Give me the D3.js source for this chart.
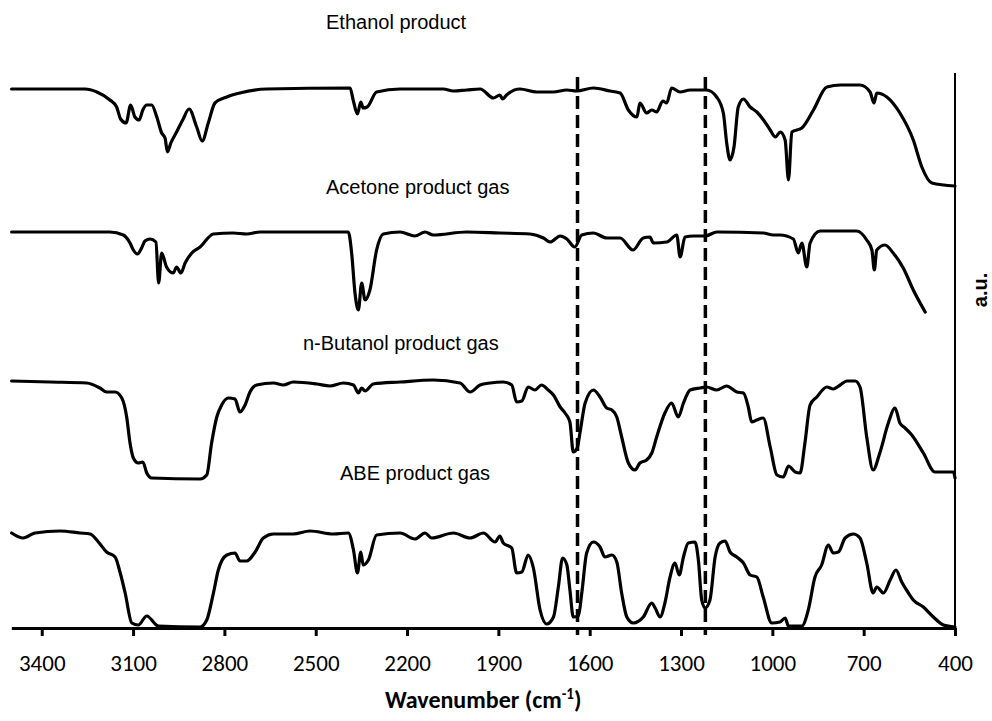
<!DOCTYPE html>
<html>
<head>
<meta charset="utf-8">
<script src="https://cdn.jsdelivr.net/npm/d3@7"></script>
<style>
  body { margin: 0; background: #fff; }
</style>
</head>
<body>
<svg class="ftir"></svg>
<script>
// Spectra: [wavenumber (cm-1), a.u.], already stacked
var ethanol = [
  [3499,53.9],[3258,53.9],[3219,53.6],[3176,52.8],[3154,52.1],[3141,50.9],[3123,50.5],[3108,52.3],[3094,51.1],[3080,50.8],
  [3068,51.8],[3055,52.3],[3039,52.3],[3022,51.1],[3006,49.5],[2995,49.0],[2987,47.6],[2976,48.5],[2957,49.6],[2937,50.8],
  [2916,51.9],[2891,50.1],[2873,48.7],[2853,50.5],[2831,52.5],[2792,53.1],[2749,53.5],[2661,53.9],[2387,54.0],[2377,52.8],
  [2363,51.4],[2352,52.6],[2344,52.0],[2331,52.1],[2300,53.6],[2223,53.9],[2081,53.9],[2048,53.7],[2004,53.8],[1960,53.9],
  [1916,53.0],[1895,53.3],[1886,52.9],[1873,53.3],[1829,53.9],[1774,53.6],[1720,53.6],[1675,53.8],[1643,53.7],[1588,54.0],
  [1533,53.7],[1500,53.5],[1473,51.8],[1445,51.1],[1435,52.5],[1413,51.5],[1396,51.8],[1380,51.6],[1360,52.7],[1347,52.5],
  [1331,54.0],[1303,53.6],[1270,53.8],[1216,53.8],[1183,53.1],[1161,51.5],[1150,48.5],[1139,46.8],[1126,48.1],[1112,52.1],
  [1095,52.9],[1073,52.1],[1051,51.6],[1029,50.8],[1007,49.8],[990,49.1],[974,49.6],[958,48.8],[947,44.8],[936,49.6],
  [903,50.0],[865,51.8],[821,54.1],[775,54.3],[712,54.3],[679,53.6],[666,52.5],[657,53.5],[624,53.1],[581,51.5],
  [537,48.8],[509,46.1],[476,44.5],[400,44.2]
];

var acetone = [
  [3499,39.6],[3176,39.6],[3132,39.3],[3110,38.5],[3099,37.8],[3086,37.4],[3072,38.0],[3061,38.7],[3044,38.9],[3025,38.6],
  [3016,34.5],[3006,37.5],[2990,36.1],[2968,35.5],[2957,36.1],[2943,35.5],[2929,36.5],[2907,37.5],[2880,38.1],[2836,39.4],
  [2771,39.5],[2727,39.4],[2683,39.6],[2393,39.6],[2382,37.5],[2371,33.5],[2360,31.8],[2349,34.5],[2338,32.8],[2322,33.8],
  [2300,37.8],[2278,39.4],[2223,39.6],[2174,39.2],[2141,39.6],[2114,39.3],[2004,39.6],[1895,39.5],[1796,39.4],[1752,39.0],
  [1730,38.6],[1697,39.2],[1675,38.9],[1649,38.1],[1626,39.3],[1588,39.5],[1544,39.0],[1500,39.0],[1458,37.8],[1424,39.0],
  [1402,39.1],[1391,38.5],[1347,38.6],[1314,39.3],[1303,37.1],[1287,39.1],[1259,39.2],[1221,39.2],[1182,39.6],[1030,39.5],
  [997,39.3],[975,39.3],[931,38.9],[915,37.5],[903,38.5],[887,36.1],[876,38.5],[843,39.7],[723,39.7],[690,38.8],
  [673,37.8],[665,35.8],[657,37.8],[630,38.3],[603,37.5],[570,36.0],[537,33.8],[498,31.6]
];

var butanol = [
  [3499,24.7],[3373,24.6],[3252,24.5],[3209,24.0],[3187,23.6],[3159,23.6],[3137,23.0],[3121,21.1],[3110,18.5],[3099,17.0],
  [3083,16.5],[3068,16.6],[3055,15.5],[3039,15.0],[2880,14.9],[2858,15.3],[2842,18.5],[2825,21.1],[2809,22.3],[2787,23.0],
  [2765,22.9],[2749,21.6],[2732,22.3],[2716,23.6],[2694,24.3],[2639,24.5],[2606,24.3],[2574,24.6],[2497,24.4],[2453,24.2],
  [2409,24.5],[2376,24.3],[2360,23.5],[2349,24.0],[2338,23.7],[2311,24.4],[2223,24.6],[2114,24.8],[2026,24.5],[1993,23.6],
  [1960,24.3],[1927,24.5],[1884,24.6],[1856,24.3],[1840,22.6],[1823,22.7],[1802,24.1],[1780,23.8],[1758,24.3],[1736,23.8],
  [1719,23.3],[1697,22.1],[1681,21.5],[1665,20.6],[1654,17.6],[1641,18.0],[1632,19.5],[1615,22.5],[1588,23.8],[1566,23.1],
  [1544,22.0],[1527,21.8],[1511,21.1],[1495,19.1],[1473,16.5],[1451,15.8],[1435,16.5],[1413,16.8],[1396,17.5],[1380,19.1],
  [1353,21.5],[1331,22.5],[1309,21.1],[1292,22.5],[1270,23.8],[1237,24.0],[1216,24.1],[1183,23.8],[1150,24.2],[1117,23.6],
  [1095,23.5],[1079,22.1],[1068,20.6],[1051,20.8],[1030,21.0],[1007,18.1],[985,15.3],[964,15.1],[947,16.2],[925,15.6],
  [909,15.5],[893,18.5],[876,22.3],[854,23.1],[821,24.1],[800,23.9],[777,24.3],[755,24.7],[728,24.7],[712,24.1],
  [690,19.1],[669,15.8],[647,17.5],[619,20.5],[597,22.0],[581,20.5],[564,20.0],[542,19.3],[504,17.5],[466,15.6],
  [405,15.6],[400,15.0]
];

var abe = [
  [3499,9.5],[3461,9.0],[3422,9.5],[3340,9.7],[3274,9.5],[3241,9.4],[3214,8.6],[3187,7.6],[3159,7.1],[3143,5.6],
  [3126,3.5],[3104,0.5],[3083,0.3],[3055,1.2],[3017,0.2],[2880,0.1],[2858,0.8],[2836,3.5],[2820,5.8],[2792,7.3],
  [2765,7.5],[2749,6.7],[2727,6.7],[2699,7.6],[2672,9.0],[2639,9.4],[2574,9.4],[2519,9.7],[2442,9.4],[2393,9.5],
  [2376,7.8],[2363,5.5],[2352,7.6],[2344,6.3],[2327,6.8],[2300,9.3],[2223,9.5],[2174,8.9],[2141,9.5],[2119,9.0],
  [2048,9.5],[1993,9.0],[1949,9.5],[1911,8.6],[1895,9.2],[1884,8.5],[1856,8.0],[1840,5.5],[1823,5.6],[1802,7.3],
  [1785,6.0],[1763,1.8],[1741,0.4],[1719,1.1],[1703,4.1],[1689,7.0],[1675,6.3],[1665,3.8],[1654,1.1],[1637,1.2],
  [1626,3.5],[1610,7.5],[1588,8.6],[1566,8.1],[1550,7.1],[1527,7.3],[1511,6.6],[1495,3.5],[1478,1.1],[1457,0.5],
  [1424,1.1],[1396,2.5],[1385,2.0],[1369,1.1],[1353,2.5],[1336,5.1],[1320,6.5],[1306,5.3],[1292,7.1],[1276,8.5],
  [1254,8.6],[1243,6.8],[1232,2.8],[1221,2.0],[1205,2.8],[1188,7.1],[1172,8.5],[1155,8.7],[1139,7.6],[1117,7.1],
  [1095,6.5],[1073,5.3],[1051,5.1],[1030,3.1],[1002,0.5],[975,0.6],[958,1.0],[947,0.2],[903,0.2],[882,1.8],
  [860,5.1],[838,6.3],[816,8.3],[800,7.5],[783,7.6],[761,9.0],[734,9.4],[712,9.0],[690,6.5],[669,3.5],
  [657,4.1],[635,3.5],[613,4.8],[594,5.8],[575,4.6],[553,3.5],[537,2.8],[504,2.1],[471,1.1],[438,0.3],
  [400,0.1]
];

var seriesNames = ["Ethanol product", "Acetone product gas", "n-Butanol product gas", "ABE product gas"];
var tickValues = [3400, 3100, 2800, 2500, 2200, 1900, 1600, 1300, 1000, 700, 400];
var markers = [1640, 1220];   // dashed guide lines (cm-1)

// Total dimensions
var w = 992,
    h = 721;

var svg = d3.select(".ftir")
    .attr("width", w)
    .attr("height", h);

var xScale = d3.scaleLinear()
    .domain([3500, 400])
    .range([11.3, 955]);

var yScale = d3.scaleLinear()
    .domain([0, 55.5])
    .range([628, 73]);

var line = d3.line()
    .x(function(d) { return xScale(d[0]); })
    .y(function(d) { return yScale(d[1]); })
    .curve(d3.curveMonotoneX);

// Spectra
[ethanol, acetone, butanol, abe].forEach(function(s) {
    svg.append("path")
        .datum(s)
        .attr("fill", "none")
        .attr("stroke", "#000")
        .attr("stroke-width", 3.2)
        .attr("stroke-linejoin", "round")
        .attr("stroke-linecap", "round")
        .attr("d", line);
});

// Dashed guides
svg.selectAll(".marker")
    .data(markers)
    .enter().append("line")
    .attr("class", "marker")
    .attr("x1", function(d) { return xScale(d); })
    .attr("x2", function(d) { return xScale(d); })
    .attr("y1", yScale(55.1))
    .attr("y2", yScale(-0.7))
    .attr("stroke", "#000")
    .attr("stroke-width", 3.5)
    .attr("stroke-dasharray", "13,6");

// Right frame line
svg.append("line")
    .attr("x1", xScale(400)).attr("x2", xScale(400))
    .attr("y1", yScale(55.5)).attr("y2", yScale(0))
    .attr("stroke", "#000")
    .attr("stroke-width", 2);

// x axis
var xAxis = d3.axisBottom(xScale)
    .tickValues(tickValues)
    .tickFormat(d3.format("d"))
    .tickSize(8)
    .tickSizeOuter(0)
    .tickPadding(19);

var gx = svg.append("g")
    .attr("transform", "translate(0," + yScale(0) + ")")
    .call(xAxis);

gx.select(".domain").attr("stroke-width", 3);
gx.selectAll(".tick line").attr("stroke-width", 3);
gx.selectAll(".tick text")
    .attr("font-family", "Calibri, Carlito, Lato, sans-serif")
    .attr("font-size", "23px")
    .attr("fill", "#000");

var title = svg.append("text")
    .attr("x", (xScale.range()[0] + xScale.range()[1]) / 2)
    .attr("y", 708)
    .attr("text-anchor", "middle")
    .attr("font-family", "Calibri, Carlito, Lato, sans-serif")
    .attr("font-weight", "bold")
    .attr("font-size", "24px");
title.append("tspan").text("Wavenumber (cm");
title.append("tspan").attr("dy", -9).attr("font-size", "15px").text("-1");
title.append("tspan").attr("dy", 9).text(")");

// y label
svg.append("text")
    .attr("transform", "translate(987,290) rotate(-90)")
    .attr("text-anchor", "middle")
    .attr("font-family", "'Liberation Sans', Arial, sans-serif")
    .attr("font-weight", "bold")
    .attr("font-size", "20px")
    .text("a.u.");

// Series labels
var labelPos = [[326, 29], [326, 194], [303, 350], [340, 480]];
svg.selectAll(".label")
    .data(seriesNames)
    .enter().append("text")
    .attr("class", "label")
    .attr("x", function(d, i) { return labelPos[i][0]; })
    .attr("y", function(d, i) { return labelPos[i][1]; })
    .attr("font-family", "'Liberation Sans', Arial, sans-serif")
    .attr("font-size", "20px")
    .text(function(d) { return d; });
</script>
</body>
</html>
